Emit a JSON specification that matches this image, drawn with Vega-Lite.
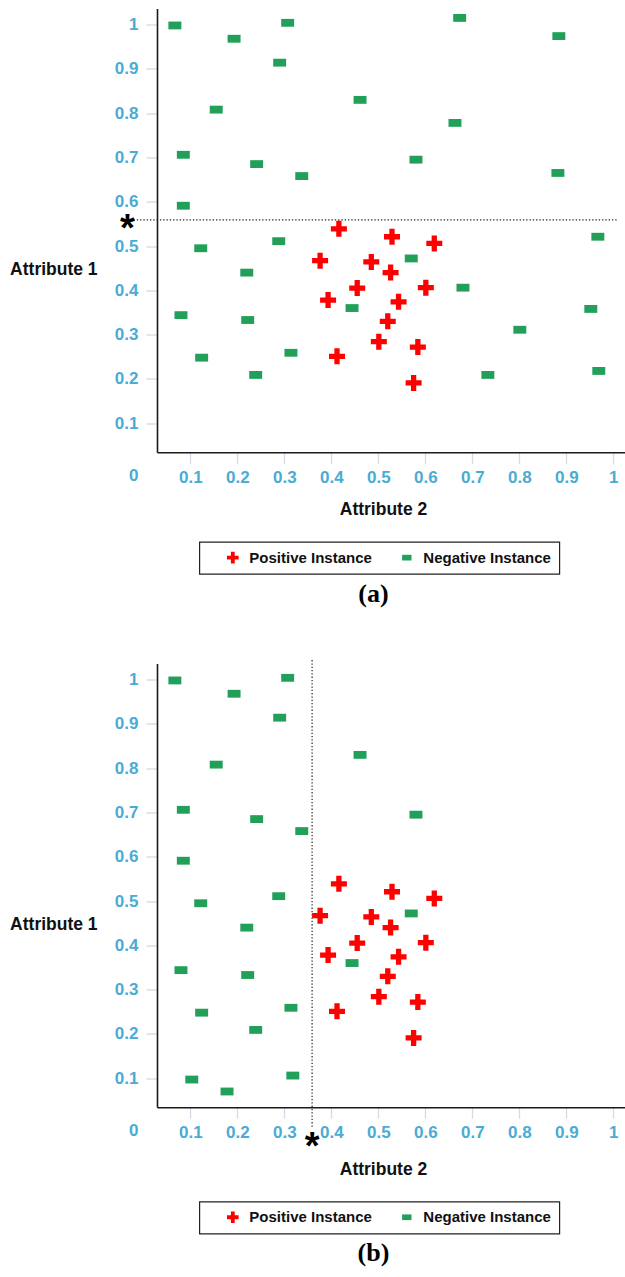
{
  "$schema": "https://vega.github.io/schema/vega-lite/v6.json",
  "background": "white",
  "padding": {"left": 9, "top": 8.5, "right": 0, "bottom": 0},
  "datasets": {
    "points": [
      {"panel": "a", "cls": "Negative Instance", "a2": 0.067, "a1": 0.998},
      {"panel": "a", "cls": "Negative Instance", "a2": 0.307, "a1": 1.004},
      {"panel": "a", "cls": "Negative Instance", "a2": 0.193, "a1": 0.968},
      {"panel": "a", "cls": "Negative Instance", "a2": 0.290, "a1": 0.914},
      {"panel": "a", "cls": "Negative Instance", "a2": 0.155, "a1": 0.808},
      {"panel": "a", "cls": "Negative Instance", "a2": 0.085, "a1": 0.706},
      {"panel": "a", "cls": "Negative Instance", "a2": 0.241, "a1": 0.685},
      {"panel": "a", "cls": "Negative Instance", "a2": 0.337, "a1": 0.658},
      {"panel": "a", "cls": "Negative Instance", "a2": 0.085, "a1": 0.591},
      {"panel": "a", "cls": "Negative Instance", "a2": 0.288, "a1": 0.511},
      {"panel": "a", "cls": "Negative Instance", "a2": 0.673, "a1": 1.015},
      {"panel": "a", "cls": "Negative Instance", "a2": 0.884, "a1": 0.974},
      {"panel": "a", "cls": "Negative Instance", "a2": 0.461, "a1": 0.830},
      {"panel": "a", "cls": "Negative Instance", "a2": 0.663, "a1": 0.778},
      {"panel": "a", "cls": "Negative Instance", "a2": 0.580, "a1": 0.695},
      {"panel": "a", "cls": "Negative Instance", "a2": 0.882, "a1": 0.665},
      {"panel": "a", "cls": "Negative Instance", "a2": 0.967, "a1": 0.521},
      {"panel": "a", "cls": "Negative Instance", "a2": 0.122, "a1": 0.495},
      {"panel": "a", "cls": "Negative Instance", "a2": 0.220, "a1": 0.440},
      {"panel": "a", "cls": "Negative Instance", "a2": 0.080, "a1": 0.344},
      {"panel": "a", "cls": "Negative Instance", "a2": 0.222, "a1": 0.333},
      {"panel": "a", "cls": "Negative Instance", "a2": 0.124, "a1": 0.248},
      {"panel": "a", "cls": "Negative Instance", "a2": 0.314, "a1": 0.259},
      {"panel": "a", "cls": "Negative Instance", "a2": 0.239, "a1": 0.209},
      {"panel": "a", "cls": "Negative Instance", "a2": 0.570, "a1": 0.472},
      {"panel": "a", "cls": "Negative Instance", "a2": 0.680, "a1": 0.406},
      {"panel": "a", "cls": "Negative Instance", "a2": 0.444, "a1": 0.360},
      {"panel": "a", "cls": "Negative Instance", "a2": 0.952, "a1": 0.358},
      {"panel": "a", "cls": "Negative Instance", "a2": 0.801, "a1": 0.311},
      {"panel": "a", "cls": "Negative Instance", "a2": 0.733, "a1": 0.209},
      {"panel": "a", "cls": "Negative Instance", "a2": 0.969, "a1": 0.218},
      {"panel": "a", "cls": "Positive Instance", "a2": 0.416, "a1": 0.539},
      {"panel": "a", "cls": "Positive Instance", "a2": 0.529, "a1": 0.521},
      {"panel": "a", "cls": "Positive Instance", "a2": 0.619, "a1": 0.506},
      {"panel": "a", "cls": "Positive Instance", "a2": 0.376, "a1": 0.467},
      {"panel": "a", "cls": "Positive Instance", "a2": 0.485, "a1": 0.464},
      {"panel": "a", "cls": "Positive Instance", "a2": 0.526, "a1": 0.440},
      {"panel": "a", "cls": "Positive Instance", "a2": 0.455, "a1": 0.405},
      {"panel": "a", "cls": "Positive Instance", "a2": 0.601, "a1": 0.406},
      {"panel": "a", "cls": "Positive Instance", "a2": 0.393, "a1": 0.378},
      {"panel": "a", "cls": "Positive Instance", "a2": 0.543, "a1": 0.374},
      {"panel": "a", "cls": "Positive Instance", "a2": 0.520, "a1": 0.330},
      {"panel": "a", "cls": "Positive Instance", "a2": 0.501, "a1": 0.284},
      {"panel": "a", "cls": "Positive Instance", "a2": 0.584, "a1": 0.272},
      {"panel": "a", "cls": "Positive Instance", "a2": 0.412, "a1": 0.251},
      {"panel": "a", "cls": "Positive Instance", "a2": 0.575, "a1": 0.191},
      {"panel": "b", "cls": "Negative Instance", "a2": 0.067, "a1": 0.998},
      {"panel": "b", "cls": "Negative Instance", "a2": 0.307, "a1": 1.004},
      {"panel": "b", "cls": "Negative Instance", "a2": 0.193, "a1": 0.968},
      {"panel": "b", "cls": "Negative Instance", "a2": 0.290, "a1": 0.914},
      {"panel": "b", "cls": "Negative Instance", "a2": 0.155, "a1": 0.808},
      {"panel": "b", "cls": "Negative Instance", "a2": 0.085, "a1": 0.706},
      {"panel": "b", "cls": "Negative Instance", "a2": 0.241, "a1": 0.685},
      {"panel": "b", "cls": "Negative Instance", "a2": 0.337, "a1": 0.658},
      {"panel": "b", "cls": "Negative Instance", "a2": 0.085, "a1": 0.591},
      {"panel": "b", "cls": "Negative Instance", "a2": 0.288, "a1": 0.511},
      {"panel": "b", "cls": "Negative Instance", "a2": 0.461, "a1": 0.830},
      {"panel": "b", "cls": "Negative Instance", "a2": 0.580, "a1": 0.695},
      {"panel": "b", "cls": "Negative Instance", "a2": 0.122, "a1": 0.495},
      {"panel": "b", "cls": "Negative Instance", "a2": 0.220, "a1": 0.440},
      {"panel": "b", "cls": "Negative Instance", "a2": 0.080, "a1": 0.344},
      {"panel": "b", "cls": "Negative Instance", "a2": 0.222, "a1": 0.333},
      {"panel": "b", "cls": "Negative Instance", "a2": 0.124, "a1": 0.248},
      {"panel": "b", "cls": "Negative Instance", "a2": 0.314, "a1": 0.259},
      {"panel": "b", "cls": "Negative Instance", "a2": 0.239, "a1": 0.209},
      {"panel": "b", "cls": "Negative Instance", "a2": 0.570, "a1": 0.472},
      {"panel": "b", "cls": "Negative Instance", "a2": 0.444, "a1": 0.360},
      {"panel": "b", "cls": "Negative Instance", "a2": 0.103, "a1": 0.097},
      {"panel": "b", "cls": "Negative Instance", "a2": 0.178, "a1": 0.070},
      {"panel": "b", "cls": "Negative Instance", "a2": 0.318, "a1": 0.106},
      {"panel": "b", "cls": "Positive Instance", "a2": 0.416, "a1": 0.539},
      {"panel": "b", "cls": "Positive Instance", "a2": 0.529, "a1": 0.521},
      {"panel": "b", "cls": "Positive Instance", "a2": 0.619, "a1": 0.506},
      {"panel": "b", "cls": "Positive Instance", "a2": 0.376, "a1": 0.467},
      {"panel": "b", "cls": "Positive Instance", "a2": 0.485, "a1": 0.464},
      {"panel": "b", "cls": "Positive Instance", "a2": 0.526, "a1": 0.440},
      {"panel": "b", "cls": "Positive Instance", "a2": 0.455, "a1": 0.405},
      {"panel": "b", "cls": "Positive Instance", "a2": 0.601, "a1": 0.406},
      {"panel": "b", "cls": "Positive Instance", "a2": 0.393, "a1": 0.378},
      {"panel": "b", "cls": "Positive Instance", "a2": 0.543, "a1": 0.374},
      {"panel": "b", "cls": "Positive Instance", "a2": 0.520, "a1": 0.330},
      {"panel": "b", "cls": "Positive Instance", "a2": 0.501, "a1": 0.284},
      {"panel": "b", "cls": "Positive Instance", "a2": 0.584, "a1": 0.272},
      {"panel": "b", "cls": "Positive Instance", "a2": 0.412, "a1": 0.251},
      {"panel": "b", "cls": "Positive Instance", "a2": 0.575, "a1": 0.191}
    ],
    "splits": [
      {"panel": "a", "a2": -0.021, "a2e": 1.009, "a1": 0.559, "a1e": 0.559},
      {"panel": "b", "a2": 0.359, "a2e": 0.359, "a1": 1.044, "a1e": -0.012}
    ],
    "stars": [
      {"panel": "a", "a2": -0.034, "a1": 0.559, "label": "*"},
      {"panel": "b", "a2": 0.359, "a1": -0.035, "label": "*"}
    ]
  },
  "spacing": 52,
  "resolve": {
    "scale": {"color": "independent", "shape": "independent", "x": "independent", "y": "independent"},
    "legend": {"color": "independent", "shape": "independent"}
  },
  "vconcat": [
    {
      "width": 469,
      "height": 459,
      "title": {"text": "(a)", "orient": "bottom", "anchor": "middle", "frame": "group", "dx": -18, "offset": 6, "font": "Liberation Serif", "fontSize": 26, "fontWeight": "bold", "color": "#000"},
      "layer": [
        {
          "data": {"name": "splits"},
          "transform": [{"filter": "datum.panel === 'a'"}],
          "mark": {"type": "rule", "color": "#222", "strokeWidth": 1.2, "strokeDash": [1.3, 2]},
          "encoding": {
            "x": {"field": "a2", "type": "quantitative"},
            "x2": {"field": "a2e"},
            "y": {"field": "a1", "type": "quantitative"},
            "y2": {"field": "a1e"}
          }
        },
        {
          "data": {"name": "points"},
          "transform": [{"filter": "datum.panel === 'a'"}],
          "mark": {"type": "point", "filled": true, "opacity": 1, "size": 256, "strokeWidth": 0},
          "encoding": {
            "x": {"field": "a2", "type": "quantitative",
              "scale": {"domain": [0.029, 1.0269], "nice": false, "zero": false},
              "axis": {"title": "Attribute 2", "values": [0.1, 0.2, 0.3, 0.4, 0.5, 0.6, 0.7, 0.8, 0.9, 1], "format": "~g", "offset": -15.3, "labelPadding": 6, "titleX": 226, "titleY": 62.7, "titleBaseline": "alphabetic"}},
            "y": {"field": "a1", "type": "quantitative",
              "scale": {"domain": [0, 1.0363], "nice": false, "zero": false},
              "axis": {"title": "Attribute 1", "values": [0, 0.1, 0.2, 0.3, 0.4, 0.5, 0.6, 0.7, 0.8, 0.9, 1], "format": "~g", "labelPadding": 8, "titleAngle": 0, "titleAlign": "left", "titleBaseline": "alphabetic", "titleX": -147.4, "titleY": 266, "domainDash": [0, 15.3, 2000],
                "tickColor": {"condition": {"test": "datum.value === 0", "value": "transparent"}, "value": "#d3dae6"},
                "labelOffset": {"condition": {"test": "datum.value === 0", "value": 8}, "value": 0}}},
            "shape": {"field": "cls", "type": "nominal",
              "scale": {"domain": ["Positive Instance", "Negative Instance"], "range": ["M-1,-0.33H-0.33V-1H0.33V-0.33H1V0.33H0.33V1H-0.33V0.33H-1Z", "M-0.81,-0.49H0.81V0.49H-0.81Z"]},
              "legend": {"orient": "none", "legendX": 42.3, "legendY": 533.4, "direction": "horizontal", "title": null, "padding": 8, "strokeColor": "#222", "fillColor": "white", "symbolSize": 135, "symbolOffset": 18, "labelOffset": 9, "columnPadding": 9, "symbolStrokeWidth": 0}},
            "color": {"field": "cls", "type": "nominal",
              "scale": {"domain": ["Positive Instance", "Negative Instance"], "range": ["#ff0000", "#22a05a"]},
              "legend": {"orient": "none", "legendX": 42.3, "legendY": 533.4, "direction": "horizontal", "title": null, "padding": 8, "strokeColor": "#222", "fillColor": "white", "symbolSize": 135, "symbolOffset": 18, "labelOffset": 9, "columnPadding": 9, "symbolStrokeWidth": 0}}
          }
        },
        {
          "data": {"name": "stars"},
          "transform": [{"filter": "datum.panel === 'a'"}],
          "mark": {"type": "text", "font": "Liberation Sans", "fontWeight": "bold", "fontSize": 38, "color": "#000", "align": "center", "baseline": "alphabetic", "dy": 21},
          "encoding": {
            "x": {"field": "a2", "type": "quantitative"},
            "y": {"field": "a1", "type": "quantitative"},
            "text": {"field": "label"}
          }
        }
      ]
    },
    {
      "width": 469,
      "height": 459,
      "title": {"text": "(b)", "orient": "bottom", "anchor": "middle", "frame": "group", "dx": -18, "offset": 6, "font": "Liberation Serif", "fontSize": 26, "fontWeight": "bold", "color": "#000"},
      "layer": [
        {
          "data": {"name": "splits"},
          "transform": [{"filter": "datum.panel === 'b'"}],
          "mark": {"type": "rule", "color": "#222", "strokeWidth": 1.2, "strokeDash": [1.3, 2]},
          "encoding": {
            "x": {"field": "a2", "type": "quantitative"},
            "x2": {"field": "a2e"},
            "y": {"field": "a1", "type": "quantitative"},
            "y2": {"field": "a1e"}
          }
        },
        {
          "data": {"name": "points"},
          "transform": [{"filter": "datum.panel === 'b'"}],
          "mark": {"type": "point", "filled": true, "opacity": 1, "size": 256, "strokeWidth": 0},
          "encoding": {
            "x": {"field": "a2", "type": "quantitative",
              "scale": {"domain": [0.029, 1.0269], "nice": false, "zero": false},
              "axis": {"title": "Attribute 2", "values": [0.1, 0.2, 0.3, 0.4, 0.5, 0.6, 0.7, 0.8, 0.9, 1], "format": "~g", "offset": -15.3, "labelPadding": 6, "titleX": 226, "titleY": 67, "titleBaseline": "alphabetic"}},
            "y": {"field": "a1", "type": "quantitative",
              "scale": {"domain": [0, 1.0363], "nice": false, "zero": false},
              "axis": {"title": "Attribute 1", "values": [0, 0.1, 0.2, 0.3, 0.4, 0.5, 0.6, 0.7, 0.8, 0.9, 1], "format": "~g", "labelPadding": 8, "titleAngle": 0, "titleAlign": "left", "titleBaseline": "alphabetic", "titleX": -147.4, "titleY": 266, "domainDash": [0, 15.3, 2000],
                "tickColor": {"condition": {"test": "datum.value === 0", "value": "transparent"}, "value": "#d3dae6"},
                "labelOffset": {"condition": {"test": "datum.value === 0", "value": 8}, "value": 0}}},
            "shape": {"field": "cls", "type": "nominal",
              "scale": {"domain": ["Positive Instance", "Negative Instance"], "range": ["M-1,-0.33H-0.33V-1H0.33V-0.33H1V0.33H0.33V1H-0.33V0.33H-1Z", "M-0.81,-0.49H0.81V0.49H-0.81Z"]},
              "legend": {"orient": "none", "legendX": 42.3, "legendY": 538, "direction": "horizontal", "title": null, "padding": 8, "strokeColor": "#222", "fillColor": "white", "symbolSize": 135, "symbolOffset": 18, "labelOffset": 9, "columnPadding": 9, "symbolStrokeWidth": 0}},
            "color": {"field": "cls", "type": "nominal",
              "scale": {"domain": ["Positive Instance", "Negative Instance"], "range": ["#ff0000", "#22a05a"]},
              "legend": {"orient": "none", "legendX": 42.3, "legendY": 538, "direction": "horizontal", "title": null, "padding": 8, "strokeColor": "#222", "fillColor": "white", "symbolSize": 135, "symbolOffset": 18, "labelOffset": 9, "columnPadding": 9, "symbolStrokeWidth": 0}}
          }
        },
        {
          "data": {"name": "stars"},
          "transform": [{"filter": "datum.panel === 'b'"}],
          "mark": {"type": "text", "font": "Liberation Sans", "fontWeight": "bold", "fontSize": 38, "color": "#000", "align": "center", "baseline": "alphabetic", "dy": 21},
          "encoding": {
            "x": {"field": "a2", "type": "quantitative"},
            "y": {"field": "a1", "type": "quantitative"},
            "text": {"field": "label"}
          }
        }
      ]
    }
  ],
  "config": {
    "view": {"stroke": null},
    "font": "Liberation Sans",
    "axis": {"grid": false, "labelFont": "Liberation Sans", "labelFontWeight": "bold", "labelFontSize": 17, "labelColor": "#4aabd5", "titleFont": "Liberation Sans", "titleFontWeight": "bold", "titleFontSize": 17.5, "titleColor": "#111", "domainColor": "#1a1a1a", "domainWidth": 1.6, "tickColor": "#d3dae6", "tickWidth": 1.3, "tickSize": 11},
    "legend": {"labelFont": "Liberation Sans", "labelFontWeight": "bold", "labelFontSize": 15, "labelColor": "#111", "strokeWidth": 1.2}
  }
}
